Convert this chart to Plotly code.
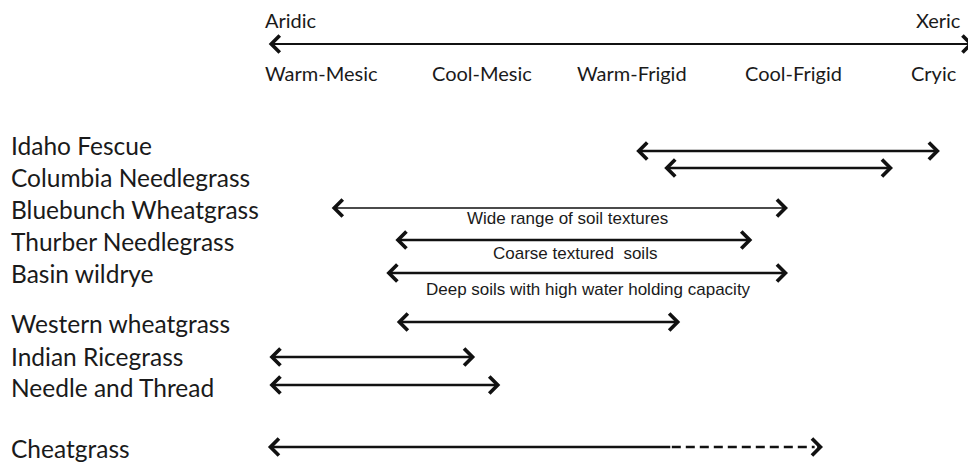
import plotly.graph_objects as go

# ---------------- data ----------------
gradient_ends = ["Aridic", "Xeric"]
zones = ["Warm-Mesic", "Cool-Mesic", "Warm-Frigid", "Cool-Frigid", "Cryic"]
zone_start = [0.0, 23.9, 44.6, 68.6, 92.3]          # gradient position where each zone label begins

species = ["Idaho Fescue", "Columbia Needlegrass", "Bluebunch Wheatgrass",
           "Thurber Needlegrass", "Basin wildrye", "Western wheatgrass",
           "Indian Ricegrass", "Needle and Thread", "Cheatgrass"]
range_low = [53.1, 57.1, 9.6, 18.7, 17.4, 18.9, 0.7, 0.7, 0.7]
range_high = [96.7, 90.0, 75.0, 69.9, 75.0, 59.6, 30.3, 33.9, 58.4]
potential_high = [None, None, None, None, None, None, None, None, 80.0]   # dashed extension
notes = ["", "", "Wide range of soil textures", "Coarse textured  soils",
         "Deep soils with high water holding capacity", "", "", "", ""]

# ---------------- layout helpers ----------------
label_y = [145, 177, 209, 241, 273, 323, 356, 387, 448]
arrow_y = [151, 168, 208, 240, 273, 322, 357, 385, 447]
line_w = [2.6, 2.6, 1.5, 2.6, 2.6, 2.6, 2.6, 2.6, 2.6]
note_x = [None, None, 43.5, 44.5, 46.5, None, None, None, None]
note_y = [None, None, 218, 253, 289, None, None, None, None]

W, H = 968, 464
PX = 7.0            # pixels per gradient unit
X0 = 263            # pixel of gradient 0
xr = [-X0 / PX, (W - X0) / PX]

top_font = dict(family="Lato, Open Sans, sans-serif", size=20, color="#1a1a1a")
label_font = dict(family="Lato, Open Sans, sans-serif", size=24.5, color="#1a1a1a")
note_font = dict(family="Liberation Sans Narrow, Liberation Sans, Arial", size=17, color="#1a1a1a")

fig = go.Figure()
annotations = []
HEAD = 1.3

def double_arrow(x0, x1, y, w, heads="end+start"):
    size = HEAD * 2.5 / w
    annotations.append(dict(
        x=x1, y=y, ax=x0, ay=y, xref="x", yref="y", axref="x", ayref="y",
        text="", showarrow=True, arrowhead=4, startarrowhead=4,
        arrowside=heads, arrowwidth=w, arrowsize=size, startarrowsize=size,
        arrowcolor="#111111", standoff=0, startstandoff=0))

# top gradient axis
double_arrow(0.6, 101.5, 44, 2.2)
annotations.append(dict(x=0, y=20, xref="x", yref="y", text=gradient_ends[0], showarrow=False,
                        xanchor="left", yanchor="middle", font=top_font))
annotations.append(dict(x=100, y=20, xref="x", yref="y", text=gradient_ends[1], showarrow=False,
                        xanchor="right", yanchor="middle", font=top_font))
for z, zs in zip(zones, zone_start):
    annotations.append(dict(x=zs, y=73, xref="x", yref="y", text=z, showarrow=False,
                            xanchor="left", yanchor="middle", font=top_font))

# species
for i, sp in enumerate(species):
    annotations.append(dict(x=9 / W, y=label_y[i], xref="paper", yref="y", text=sp,
                            showarrow=False, xanchor="left", yanchor="middle", font=label_font))
    if potential_high[i] is None:
        double_arrow(range_low[i], range_high[i], arrow_y[i], line_w[i])
    else:
        # solid part with left head
        annotations.append(dict(
            x=range_low[i], y=arrow_y[i], ax=range_high[i], ay=arrow_y[i],
            xref="x", yref="y", axref="x", ayref="y", text="", showarrow=True,
            arrowhead=4, arrowside="end", arrowwidth=line_w[i], arrowsize=HEAD * 2.5 / line_w[i],
            arrowcolor="#111111", standoff=0))
        # dashed extension
        fig.add_trace(go.Scatter(x=[range_high[i], potential_high[i] - 1.2],
                                 y=[arrow_y[i], arrow_y[i]], mode="lines",
                                 line=dict(color="#111111", width=line_w[i], dash="9px,5px"),
                                 hoverinfo="skip", showlegend=False))
        annotations.append(dict(
            x=potential_high[i], y=arrow_y[i], ax=potential_high[i] - 1.0, ay=arrow_y[i],
            xref="x", yref="y", axref="x", ayref="y", text="", showarrow=True,
            arrowhead=4, arrowside="end", arrowwidth=line_w[i], arrowsize=HEAD * 2.5 / line_w[i],
            arrowcolor="#111111", standoff=0))
    if notes[i]:
        annotations.append(dict(x=note_x[i], y=note_y[i], xref="x", yref="y", text=notes[i],
                                showarrow=False, xanchor="center", yanchor="middle", font=note_font))

fig.update_layout(
    width=W, height=H, margin=dict(l=0, r=0, t=0, b=0),
    paper_bgcolor="white", plot_bgcolor="white",
    xaxis=dict(range=xr, visible=False, fixedrange=True),
    yaxis=dict(range=[H, 0], visible=False, fixedrange=True),
    annotations=annotations, showlegend=False,
)

fig.write_html("out.html", config={"displayModeBar": False},
               post_script="document.body.style.margin='0';document.body.style.overflow='hidden';")
